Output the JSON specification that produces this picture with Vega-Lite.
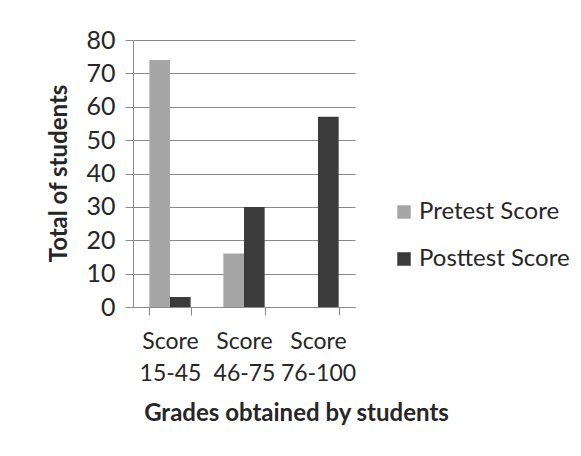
{
  "$schema": "https://vega.github.io/schema/vega-lite/v6.json",
  "width": 222,
  "height": 267,
  "autosize": {"type": "none"},
  "padding": {"left": 133, "top": 40, "right": 226, "bottom": 149},
  "background": "white",
  "config": {
    "view": {"stroke": null},
    "font": "Lato",
    "axis": {"labelFont": "Lato", "titleFont": "Lato", "labelColor": "#262626", "titleColor": "#262626"}
  },
  "data": {
    "values": [
      {"grade": "Score 15-45", "series": "Pretest Score", "count": 74},
      {"grade": "Score 15-45", "series": "Posttest Score", "count": 3},
      {"grade": "Score 46-75", "series": "Pretest Score", "count": 16},
      {"grade": "Score 46-75", "series": "Posttest Score", "count": 30},
      {"grade": "Score 76-100", "series": "Pretest Score", "count": 0},
      {"grade": "Score 76-100", "series": "Posttest Score", "count": 57}
    ]
  },
  "mark": {"type": "bar"},
  "encoding": {
    "x": {
      "field": "grade",
      "type": "nominal",
      "sort": ["Score 15-45", "Score 46-75", "Score 76-100"],
      "scale": {"paddingInner": 0.442, "paddingOuter": 0.221},
      "axis": {
        "title": "Grades obtained by students",
        "titleFontSize": 24,
        "titleFontWeight": "bold",
        "titleX": 163,
        "titleY": 106,
        "titleBaseline": "middle",
        "titleAlign": "center",
        "labelAngle": 0,
        "labelFontSize": 23,
        "labelExpr": "split(datum.label, ' ')",
        "labelLineHeight": 32,
        "labelPadding": 15,
        "labelBaseline": "top",
        "tickBand": "extent",
        "tickSize": 8,
        "tickColor": "#8a8a8a",
        "domainColor": "#8a8a8a",
        "grid": false
      }
    },
    "xOffset": {"field": "series", "type": "nominal", "sort": ["Pretest Score", "Posttest Score"], "scale": {"paddingInner": 0, "paddingOuter": 0}},
    "y": {
      "field": "count",
      "type": "quantitative",
      "scale": {"domain": [0, 80], "nice": false},
      "axis": {
        "title": "Total of students",
        "titleFontSize": 24,
        "titleFontWeight": "bold",
        "titleAngle": -90,
        "titleX": -74,
        "titleY": 133,
        "titleAlign": "center",
        "titleBaseline": "middle",
        "values": [0, 10, 20, 30, 40, 50, 60, 70, 80],
        "labelFontSize": 25,
        "labelPadding": 10,
        "tickSize": 8,
        "tickColor": "#8a8a8a",
        "domainColor": "#8a8a8a",
        "gridColor": "#8a8a8a",
        "grid": true
      }
    },
    "color": {
      "field": "series",
      "type": "nominal",
      "sort": ["Pretest Score", "Posttest Score"],
      "scale": {"domain": ["Pretest Score", "Posttest Score"], "range": ["#a6a6a6", "#3b3b3b"]},
      "legend": {
        "title": null,
        "orient": "none",
        "legendX": 259,
        "legendY": 160,
        "symbolType": "square",
        "symbolSize": 182,
        "symbolStrokeWidth": 0,
        "labelFontSize": 24,
        "labelFont": "Lato",
        "labelColor": "#262626",
        "labelOffset": 3,
        "rowPadding": 23
      }
    }
  }
}
